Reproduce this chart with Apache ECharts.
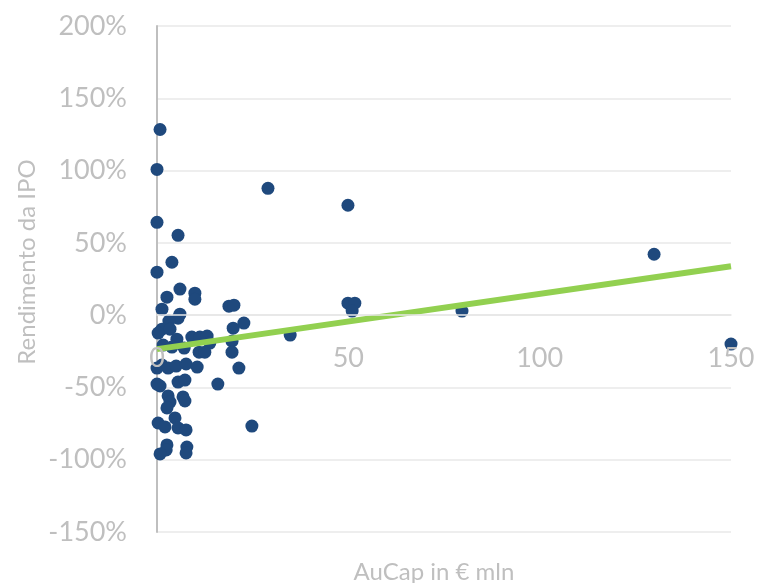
<!DOCTYPE html>
<html>
<head>
<meta charset="utf-8">
<script src="https://cdn.jsdelivr.net/npm/echarts@6/dist/echarts.min.js"></script>
<style>
  html, body { margin: 0; padding: 0; background: #ffffff; }
  #chart { width: 759px; height: 583px; }
</style>
</head>
<body>
<div id="chart"></div>
<script>
// Capitale raccolto (€ mln) e rendimento della IPO (%) per ciascuna emissione
const capX = [
  0.8, 0, 0, 5.5, 3.9, 0, 6.0, 2.6, 9.9, 9.9,
  1.3, 6.0, 5.5, 3.1, 1.3, 3.4, 5.2, 9.1, 11.2, 13.1,
  3.9, 7.1, 11.0, 13.8, 1.3, 0, 2.9, 5.0, 7.6, 10.5,
  0.8, 0, 5.5, 7.3, 15.9, 2.9, 3.4, 2.6, 6.8, 7.3,
  0.3, 2.1, 4.7, 5.5, 7.6, 2.6, 2.4, 0.8, 7.8, 7.6,
  18.8, 20.1, 22.7, 19.9, 19.6, 19.6, 21.4, 24.8, 29.0, 34.8,
  49.9, 49.9, 51.7, 51.0, 79.7, 129.9, 150.0, 0.3, 1.6, 12.5
];
const retY = [
  128.4, 100.8, 64.2, 55.2, 36.6, 29.7, 18.0, 12.4, 15.2, 11.0,
  4.1, 0.7, -2.1, -4.1, -9.7, -9.7, -16.6, -15.2, -15.2, -14.5,
  -22.1, -22.8, -25.6, -19.3, -34.5, -36.6, -36.6, -35.2, -33.8, -35.9,
  -49.0, -47.7, -46.3, -44.9, -47.7, -55.9, -60.1, -64.2, -56.6, -59.4,
  -74.6, -77.3, -71.1, -78.0, -79.4, -89.8, -93.2, -96.0, -91.2, -95.3,
  6.2, 6.9, -5.5, -9.0, -18.0, -25.6, -36.6, -76.7, 87.7, -13.8,
  76.0, 8.3, 8.3, 2.8, 2.8, 42.1, -20.0, -12.4, -20.7, -25.6
];

// Retta di tendenza lineare (estremi dell'asse X)
const trendX = [0, 150];
const trendY = [-23.5, 33.8];

// Scale degli assi
const xMin = 0, xMax = 150, xStep = 50;
const yMin = -150, yMax = 200, yStep = 50;

const labelFont = 'Lato, "Open Sans", sans-serif';
const greyText = '#bfbfbf';

// Area del grafico
const gridTop = 26, gridBottom = 51, gridLeft = 157, gridRight = 28;
const plotHeight = 583 - gridTop - gridBottom;
// l'asse orizzontale incrocia quello verticale a quota 0%
const xAxisShift = -plotHeight * (0 - yMin) / (yMax - yMin);

const chart = echarts.init(document.getElementById('chart'));
chart.setOption({
  animation: false,
  backgroundColor: '#ffffff',
  grid: { left: gridLeft, right: gridRight, top: gridTop, bottom: gridBottom, containLabel: false },
  xAxis: {
    type: 'value',
    position: 'bottom',
    offset: xAxisShift,
    min: xMin, max: xMax, interval: xStep,
    z: 5,
    axisLine: { show: true, onZero: false, lineStyle: { color: '#e6e6e6', width: 1.5 } },
    axisTick: { show: false },
    splitLine: { show: false },
    axisLabel: { color: greyText, fontSize: 27, fontFamily: labelFont, margin: 30 }
  },
  yAxis: {
    type: 'value',
    min: yMin, max: yMax, interval: yStep,
    axisLine: { show: true, onZero: false, lineStyle: { color: '#bfbfbf', width: 2 } },
    axisTick: { show: false },
    splitLine: { show: true, lineStyle: { color: '#e8e8e8', width: 1.5 } },
    axisLabel: {
      color: greyText, fontSize: 27, fontFamily: labelFont, margin: 30,
      formatter: '{value}%'
    }
  },
  graphic: [
    {
      type: 'text',
      x: 27, y: 262,
      rotation: Math.PI / 2,
      style: {
        text: 'Rendimento da IPO',
        fill: greyText,
        font: '24px ' + labelFont,
        align: 'center',
        verticalAlign: 'middle'
      }
    },
    {
      type: 'text',
      x: 434, y: 572,
      style: {
        text: 'AuCap in € mln',
        fill: greyText,
        font: '24px ' + labelFont,
        align: 'center',
        verticalAlign: 'middle'
      }
    }
  ],
  series: [
    {
      type: 'scatter',
      data: capX.map((x, i) => [x, retY[i]]),
      symbol: 'circle',
      symbolSize: 13,
      itemStyle: { color: '#1f497d', opacity: 1 },
      z: 2
    },
    {
      type: 'line',
      data: trendX.map((x, i) => [x, trendY[i]]),
      showSymbol: false,
      lineStyle: { color: '#92d050', width: 6 },
      z: 3
    }
  ]
});
</script>
</body>
</html>
